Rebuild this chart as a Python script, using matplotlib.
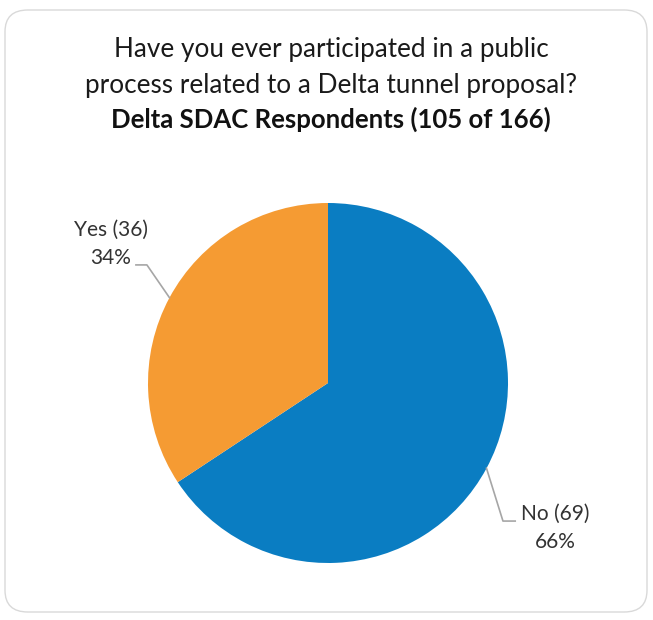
import numpy as np
import matplotlib
matplotlib.use("Agg")
import matplotlib.pyplot as plt
from matplotlib.patches import FancyBboxPatch

labels = ["No", "Yes"]
counts = [69, 36]
colors = ["#0A7DC2", "#F59B33"]
title_lines = ["Have you ever participated in a public",
               "process related to a Delta tunnel proposal?"]
subtitle = "Delta SDAC Respondents (105 of 166)"

plt.rcParams['font.family'] = ['Lato', 'DejaVu Sans']

W, H = 653, 620
fig = plt.figure(figsize=(W / 100, H / 100), dpi=100)

# rounded frame
frame = FancyBboxPatch((5 / W, 8 / H), 642 / W, 602 / H,
                       boxstyle="round,pad=0,rounding_size=0.035",
                       transform=fig.transFigure, facecolor="none",
                       edgecolor="#D9D9D9", linewidth=1.0, zorder=-1)
fig.patches.append(frame)

# title
fig.text(331 / W, 1 - 50 / H, title_lines[0], ha="center", va="center",
         fontsize=18.8, color="#1a1a1a")
fig.text(331 / W, 1 - 85 / H, title_lines[1], ha="center", va="center",
         fontsize=18.8, color="#1a1a1a")
fig.text(331 / W, 1 - 119 / H, subtitle, ha="center", va="center",
         fontsize=18.5, fontweight="bold", color="#111111")

# pie axes: center (328,383), radius 180 px
r = 180
ax = fig.add_axes([(328 - r) / W, 1 - (383 + r) / H, 2 * r / W, 2 * r / H])
wedges, _ = ax.pie(counts, colors=colors, startangle=90, counterclock=False,
                   radius=1, wedgeprops=dict(linewidth=0))
ax.set_xlim(-1, 1)
ax.set_ylim(-1, 1)
ax.set_aspect("equal")
ax.axis("off")

total = sum(counts)
# label layout (elbow, line end, text center) in pie units
layout = {
    "No": dict(elbow=(0.972, -0.767), end=(1.04, -0.767), text=(1.261, -0.806)),
    "Yes": dict(elbow=(-1.006, 0.656), end=(-1.067, 0.656), text=(-1.206, 0.775)),
}
for w, lab, c in zip(wedges, labels, counts):
    ang = np.deg2rad((w.theta1 + w.theta2) / 2)
    p0 = (np.cos(ang), np.sin(ang))
    L = layout[lab]
    xs = [p0[0], L["elbow"][0], L["end"][0]]
    ys = [p0[1], L["elbow"][1], L["end"][1]]
    ax.plot(xs, ys, color="#A6A6A6", lw=1.2, clip_on=False)
    pct = round(100 * c / total)
    ax.text(L["text"][0], L["text"][1], f"{lab} ({c})\n{pct}%",
            ha="center", va="center", fontsize=15, color="#333333",
            linespacing=1.5, clip_on=False)

fig.savefig("out.png", dpi=100)
